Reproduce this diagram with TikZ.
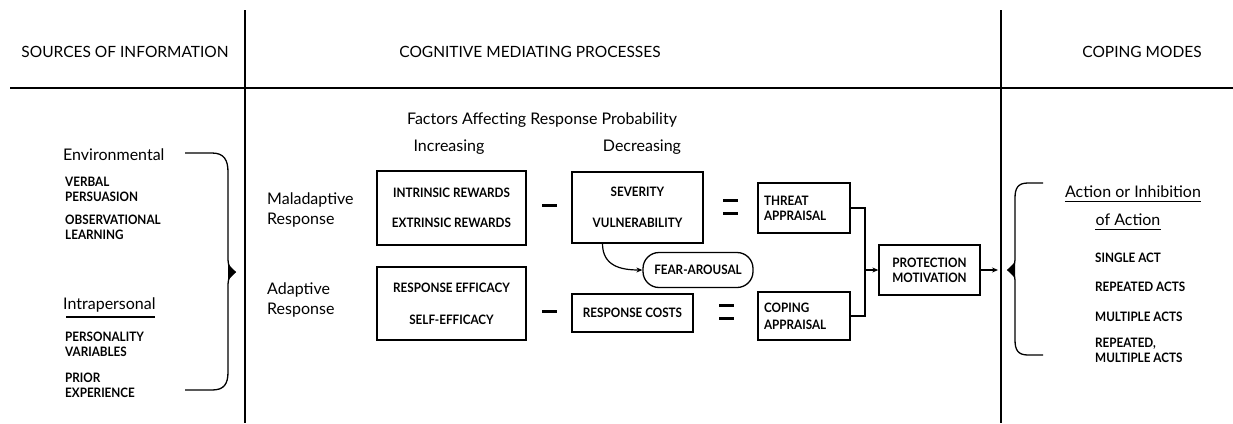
\documentclass[tikz,border=0pt]{standalone}
\usepackage{fontspec}
\setmainfont{Lato}
\newfontfamily\capsf[FakeStretch=0.9]{Lato}
\usetikzlibrary{arrows.meta}
\begin{document}
\begin{tikzpicture}[x=1pt,y=-1pt,
  hdr/.style={font=\fontsize{15.5}{18}\selectfont, inner sep=0pt},
  lab/.style={font=\fontsize{16}{20}\selectfont, inner sep=0pt, align=left},
  capt/.style={font=\capsf\bfseries\fontsize{13}{15}\selectfont, inner sep=0pt, align=left},
  bx/.style={draw, line width=1.3pt, inner sep=0pt, align=center,
    font=\capsf\bfseries\fontsize{13}{15}\selectfont},
  rule/.style={line width=1.4pt},
  conn/.style={line width=1.2pt},
  arr/.style={line width=1.2pt, -{Stealth[length=6pt,width=5pt]}},
  sign/.style={line width=3pt}
]
\useasboundingbox (0,0) rectangle (1233,423);

% frame lines
\draw[rule] (10,88) -- (1233,88);
\draw[rule] (245,10) -- (245,423);
\draw[rule] (1001,10) -- (1001,423);

% headers
\node[hdr] (hSrc) at (125,52) {SOURCES OF INFORMATION};
\node[hdr] (hCog) at (530,52) {COGNITIVE MEDIATING PROCESSES};
\node[hdr] (hCop) at (1142,52) {COPING MODES};

% left column
\node[lab, anchor=west] (env) at (63,155) {Environmental};
\node[capt, anchor=west] (verbal) at (65,189) {VERBAL\\PERSUASION};
\node[capt, anchor=west] (obs) at (65,227) {OBSERVATIONAL\\LEARNING};
\node[lab, anchor=west] (intra) at (63,305) {Intrapersonal};
\draw[line width=1.1pt] (66,317) -- (155,317);
\node[capt, anchor=west] (pers) at (65,344) {PERSONALITY\\VARIABLES};
\node[capt, anchor=west] (prior) at (65,385) {PRIOR\\EXPERIENCE};

% left brace
\draw[line width=1.3pt] (185,153) -- (212,153)
  .. controls (224,153) and (228,160) .. (228,172) -- (228,260)
  .. controls (228,266) and (231,270) .. (235,272)
  .. controls (231,274) and (228,278) .. (228,284) -- (228,372)
  .. controls (228,384) and (224,390) .. (212,390) -- (185,390);
\fill (236,272) -- (228,264) -- (228,280) -- cycle;

% middle titles
\node[lab] (factors) at (542,120) {Factors Affecting Response Probability};
\node[lab] (incr) at (449,147) {Increasing};
\node[lab] (decr) at (642,147) {Decreasing};

\node[lab, anchor=west] (mal) at (267,210) {Maladaptive\\Response};
\node[lab, anchor=west] (adap) at (267,300) {Adaptive\\Response};

% boxes
\node[bx, minimum width=149pt, minimum height=74pt, font=\capsf\bfseries\fontsize{13}{30}\selectfont]
  (rew) at (451.5,208) {INTRINSIC REWARDS\\EXTRINSIC REWARDS};
\node[bx, minimum width=131pt, minimum height=71pt, font=\capsf\bfseries\fontsize{13}{31}\selectfont]
  (sev) at (637.5,207.5) {SEVERITY\\VULNERABILITY};
\node[bx, minimum width=92pt, minimum height=50pt, align=left, text width=80pt]
  (threat) at (804,208) {THREAT\\APPRAISAL};
\node[bx, minimum width=149pt, minimum height=73pt, font=\capsf\bfseries\fontsize{13}{32}\selectfont]
  (eff) at (451.5,303.5) {RESPONSE EFFICACY\\SELF-EFFICACY};
\node[bx, minimum width=121pt, minimum height=38pt]
  (cost) at (632.5,313) {RESPONSE COSTS};
\node[bx, minimum width=92pt, minimum height=48pt, align=left, text width=80pt, font=\capsf\bfseries\fontsize{13}{17}\selectfont]
  (coping) at (804,316) {COPING\\APPRAISAL};
\node[bx, minimum width=110pt, minimum height=35pt, rounded corners=16pt]
  (fear) at (698,270) {FEAR-AROUSAL};
\node[bx, minimum width=101pt, minimum height=50pt]
  (prot) at (929.5,270) {PROTECTION\\MOTIVATION};

% minus and equals signs
\draw[sign] (542,205) -- (557,205);
\draw[sign] (542,311) -- (557,311);
\draw[sign] (723,200) -- (738,200);
\draw[sign] (723,213) -- (738,213);
\draw[sign] (719,305) -- (734,305);
\draw[sign] (719,318) -- (734,318);

% connectors
\coordinate (j) at (865,270);
\draw[conn] (threat.east) -| (j) |- (coping.east);
\draw[arr] (j) -- (prot.west);
\draw[arr] ([xshift=-35pt]sev.south) .. controls +(0,22) and +(-22,0) .. (fear.west);
\coordinate (rtip) at (998,270);
\draw[arr] (prot.east) -- (rtip);

% right brace
\draw[line width=1.3pt] (1043,183) -- (1028,183)
  .. controls (1018,183) and (1015,188) .. (1015,198) -- (1015,260)
  .. controls (1015,265) and (1012,268) .. (1008,270)
  .. controls (1012,272) and (1015,275) .. (1015,280) -- (1015,340)
  .. controls (1015,350) and (1018,355) .. (1028,355) -- (1043,355);
\fill (1007,270) -- (1015,262) -- (1015,278) -- cycle;

% right column
\node[lab] (act1) at (1133,192) {Action or Inhibition};
\draw[line width=1.1pt] ([yshift=-3pt]act1.south west) -- ([yshift=-3pt]act1.south east);
\node[lab] (act2) at (1128,220) {of Action};
\draw[line width=1.1pt] ([yshift=-3pt]act2.south west) -- ([yshift=-3pt]act2.south east);
\node[capt, anchor=west] (single) at (1095,258) {SINGLE ACT};
\node[capt, anchor=west] (rep) at (1095,287) {REPEATED ACTS};
\node[capt, anchor=west] (mult) at (1095,317) {MULTIPLE ACTS};
\node[capt, anchor=west] (repm) at (1095,350) {REPEATED,\\MULTIPLE ACTS};
\end{tikzpicture}
\end{document}
